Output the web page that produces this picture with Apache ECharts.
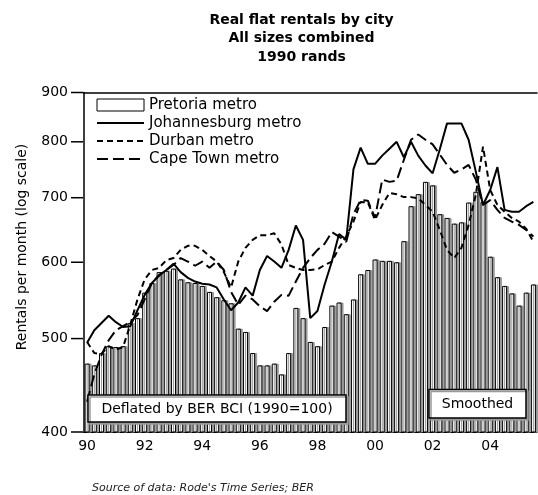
<!DOCTYPE html>
<html>
<head>
<meta charset="utf-8">
<script src="https://cdn.jsdelivr.net/npm/echarts@6/dist/echarts.min.js"></script>
<style>
  html, body { margin: 0; padding: 0; background: #fff; }
  #chart { width: 538px; height: 495px; }
</style>
</head>
<body>
<div id="chart"></div>
<script>
  // quarters 1990Q1 .. 2005Q3
  var quarters = [];
  for (var yr = 1990; yr <= 2005; yr++) {
    for (var q = 1; q <= 4; q++) quarters.push(yr + 'Q' + q);
  }
  quarters = quarters.slice(0, 63);

  var pretoria = [
    471, 469, 483, 491, 490, 491, 519, 525,
    558, 571, 586, 588, 591, 576, 572, 571,
    567, 559, 552, 548, 544, 512, 508, 483,
    469, 469, 471, 459, 483, 538, 525, 496,
    491, 514, 541, 545, 530, 549, 583, 589,
    604, 602, 602, 600, 631, 686, 706, 727,
    721, 673, 667, 658, 660, 692, 710, 693,
    608, 579, 567, 557, 541, 558, 569
  ];
  var johannesburg = [
    495, 510, 519, 528, 520, 514, 515, 535,
    555, 571, 581, 589, 598, 586, 578, 573,
    570, 569, 565, 549, 535, 545, 565, 554,
    589, 609, 601, 592, 618, 655, 633, 525,
    534, 569, 601, 642, 633, 749, 789, 759,
    759, 774, 787, 800, 771, 800, 774, 756,
    742, 786, 836, 836, 836, 804, 745, 688,
    713, 753, 680, 677, 677, 686, 693
  ];
  var durban = [
    496, 483, 482, 491, 487, 490, 517, 549,
    576, 589, 592, 603, 606, 618, 624, 624,
    618, 609, 601, 586, 565, 601, 621, 633,
    640, 640, 643, 626, 596, 592, 589, 589,
    590, 596, 601, 621, 638, 661, 693, 692,
    664, 688, 708, 706, 701, 701, 699, 688,
    677, 648, 618, 606, 621, 656, 705, 791,
    713, 688, 677, 667, 661, 650, 630
  ];
  var capeTown = [
    430, 459, 481, 498, 510, 515, 520, 529,
    549, 571, 582, 589, 596, 606, 601, 595,
    601, 592, 601, 589, 559, 542, 554, 549,
    540, 534, 546, 555, 554, 573, 592, 606,
    618, 627, 645, 638, 630, 673, 696, 695,
    667, 731, 727, 729, 766, 804, 814, 804,
    795, 776, 757, 743, 749, 757, 731, 688,
    696, 680, 667, 661, 656, 648, 638
  ];
  var yTicks = [400, 500, 600, 700, 800, 900];

  var titleText = 'Real flat rentals by city\nAll sizes combined\n1990 rands';
  var yName = 'Rentals per month (log scale)';
  var sourceText = "Source of data: Rode's Time Series; BER";
  var noteLeft = 'Deflated by BER BCI (1990=100)';
  var noteRight = 'Smoothed';

  var FONT = 'DejaVu Sans';
  var noSymbol = { color: 'rgba(0,0,0,0)', borderColor: 'rgba(0,0,0,0)', borderWidth: 0, opacity: 0 };
  var chart = echarts.init(document.getElementById('chart'));

  chart.setOption({
    animation: false,
    grid: { left: 83.5, right: 1, top: 92.5, bottom: 63, outerBoundsMode: 'none' },
    legend: {
      orient: 'vertical',
      left: 91,
      top: 91,
      itemWidth: 47,
      itemHeight: 12,
      itemGap: 0,
      textStyle: { fontFamily: FONT, fontSize: 15, color: '#000', lineHeight: 18 },
      data: [
        { name: 'Pretoria metro', icon: 'rect',
          itemStyle: { color: '#fff', borderColor: '#000', borderWidth: 1, shadowColor: 'rgba(0,0,0,0)', shadowOffsetX: 0, shadowOffsetY: 0, shadowBlur: 0 } },
        { name: 'Johannesburg metro', itemStyle: noSymbol },
        { name: 'Durban metro', itemStyle: noSymbol },
        { name: 'Cape Town metro', itemStyle: noSymbol }
      ]
    },
    xAxis: [{
      type: 'category',
      data: quarters,
      position: 'bottom',
      axisLine: { lineStyle: { color: '#000', width: 1 } },
      axisTick: { alignWithLabel: true, interval: 0, length: 6, lineStyle: { color: '#000' } },
      axisLabel: {
        interval: function (i) { return i % 8 === 0; },
        formatter: function (v) { return v.slice(2, 4); },
        color: '#000', fontFamily: FONT, fontSize: 14, margin: 7
      },
      splitLine: { show: false }
    }, {
      type: 'category',
      data: quarters,
      position: 'top',
      axisLine: { lineStyle: { color: '#000', width: 1.5 } },
      axisTick: { show: false },
      axisLabel: { show: false }
    }],
    yAxis: {
      type: 'log',
      min: 400,
      max: 900,
      axisLine: { show: true, lineStyle: { color: '#000', width: 1.5 } },
      axisTick: { show: false },
      axisLabel: { show: false },
      splitLine: { show: false }
    },
    series: [{
      name: 'Pretoria metro',
      type: 'bar',
      data: pretoria,
      barWidth: 5,
      itemStyle: {
        color: '#fff', borderColor: '#000', borderWidth: 1,
        shadowColor: '#999', shadowOffsetX: 2, shadowBlur: 0
      }
    }, {
      name: 'Johannesburg metro',
      type: 'line',
      data: johannesburg,
      symbol: 'none',
      lineStyle: { color: '#000', width: 2 },
      itemStyle: { color: '#000' }
    }, {
      name: 'Durban metro',
      type: 'line',
      data: durban,
      symbol: 'none',
      lineStyle: { color: '#000', width: 2, type: [6, 4] },
      itemStyle: { color: '#000' }
    }, {
      name: 'Cape Town metro',
      type: 'line',
      data: capeTown,
      symbol: 'none',
      lineStyle: { color: '#000', width: 2, type: [11, 5] },
      itemStyle: { color: '#000' }
    }]
  });

  // y ticks and labels placed through the log axis
  var gfx = [];
  yTicks.forEach(function (v) {
    var py = chart.convertToPixel({ yAxisIndex: 0 }, v);
    gfx.push({ type: 'line', shape: { x1: 71, y1: py, x2: 83, y2: py }, style: { stroke: '#000', lineWidth: 1.5 } });
    gfx.push({ type: 'text', x: 68, y: py, style: { text: String(v), align: 'right', verticalAlign: 'middle', font: '14px ' + FONT, fill: '#000' } });
  });
  gfx.push({ type: 'text', x: 301.5, y: 11, style: { text: titleText, align: 'center', verticalAlign: 'top', font: 'bold 14px ' + FONT, lineHeight: 18.5, fill: '#000' } });
  gfx.push({ type: 'text', x: 22, y: 247, rotation: Math.PI / 2, style: { text: yName, align: 'center', verticalAlign: 'middle', font: '14px ' + FONT, fill: '#000' } });
  gfx.push({ type: 'text', x: 92, y: 488, style: { text: sourceText, align: 'left', verticalAlign: 'middle', font: 'italic 11px ' + FONT, fill: '#222' } });
  // annotation boxes
  gfx.push({ type: 'rect', z: 100, shape: { x: 88, y: 395, width: 258, height: 27 }, style: { fill: '#fff', stroke: '#000', lineWidth: 1.5, shadowColor: '#999', shadowOffsetX: 2, shadowOffsetY: 2 } });
  gfx.push({ type: 'text', z: 101, x: 217, y: 409, style: { text: noteLeft, align: 'center', verticalAlign: 'middle', font: '14px ' + FONT, fill: '#000' } });
  gfx.push({ type: 'rect', z: 100, shape: { x: 429, y: 389.5, width: 97, height: 28.5 }, style: { fill: '#fff', stroke: '#000', lineWidth: 1.5, shadowColor: '#999', shadowOffsetX: 2, shadowOffsetY: 2 } });
  gfx.push({ type: 'text', z: 101, x: 477.5, y: 404, style: { text: noteRight, align: 'center', verticalAlign: 'middle', font: '14px ' + FONT, fill: '#000' } });

  chart.setOption({ graphic: gfx });
</script>
</body>
</html>
